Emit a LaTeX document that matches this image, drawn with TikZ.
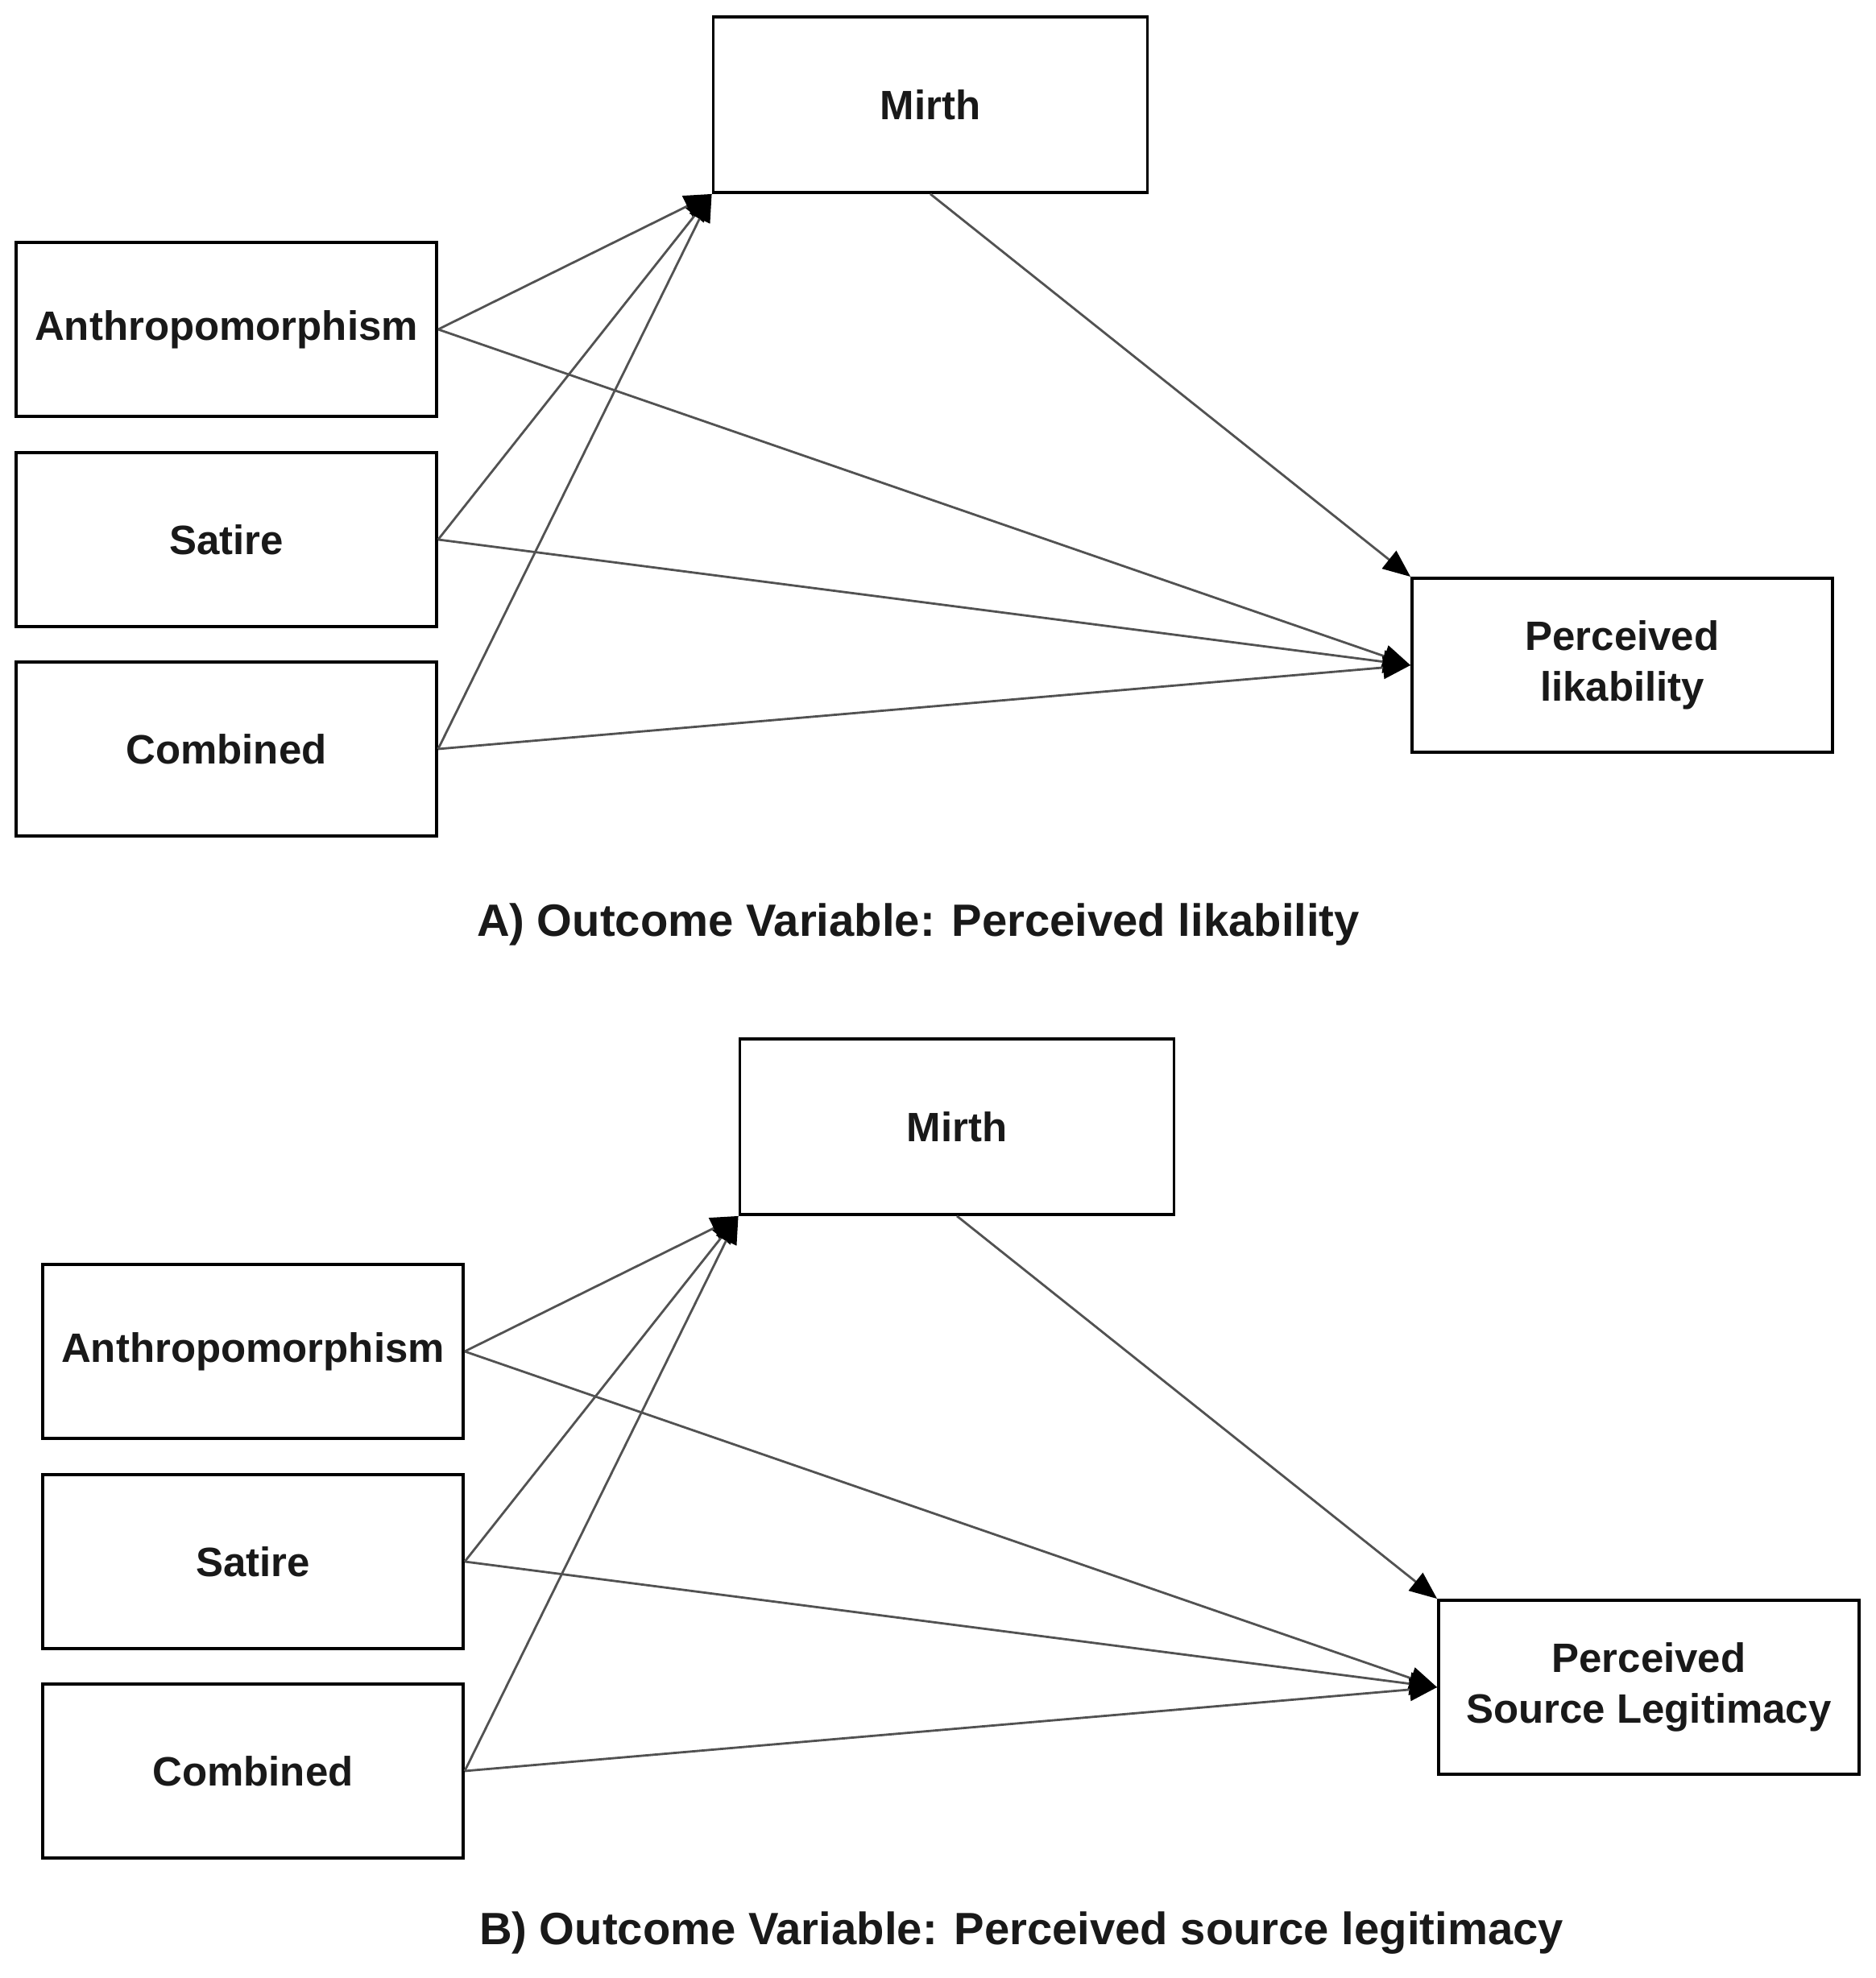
\documentclass[tikz,border=0pt]{standalone}
\usepackage{fontspec}
\setmainfont{Liberation Sans}
\usetikzlibrary{arrows.meta}

\begin{document}
\begin{tikzpicture}[
  x=1cm,y=1cm,
  box/.style={draw=black, line width=1.1pt, align=center, inner sep=2pt,
              minimum width=5.22cm, minimum height=2.16cm,
              font=\fontsize{14.5}{18}\selectfont\bfseries, text=black!90},
  mirthbox/.style={box, minimum width=5.39cm, minimum height=2.18cm},
  flow/.style={-{Triangle[length=3.4mm,width=2.8mm,color=black]},
               line width=0.8pt, draw=black!68},
  capt/.style={font=\fontsize{16}{19}\selectfont\bfseries, text=black!90}
]
  \useasboundingbox (0,0) rectangle (23.28,24.56);

  % A) likability
  \node[mirthbox] (mirthA) at (11.55,23.26) {Mirth};
  \node[box] (anthA) at (2.81,20.47) {Anthropomorphism};
  \node[box] (satA) at (2.81,17.86) {Satire};
  \node[box] (combA) at (2.81,15.26) {Combined};
  \node[box] (likA) at (20.14,16.30) {Perceived\\likability};

  \draw[flow] (anthA.east) -- (mirthA.south west);
  \draw[flow] (satA.east) -- (mirthA.south west);
  \draw[flow] (combA.east) -- (mirthA.south west);
  \draw[flow] (anthA.east) -- (likA.west);
  \draw[flow] (satA.east) -- (likA.west);
  \draw[flow] (combA.east) -- (likA.west);
  \draw[flow] (mirthA.south) -- (likA.north west);

  \node[capt] (captA) at (11.40,13.08) {A) Outcome Variable: Perceived likability};

  % B) source legitimacy
  \node[mirthbox] (mirthB) at (11.88,10.57) {Mirth};
  \node[box] (anthB) at (3.14,7.78) {Anthropomorphism};
  \node[box] (satB) at (3.14,5.17) {Satire};
  \node[box] (combB) at (3.14,2.57) {Combined};
  \node[box] (legB) at (20.47,3.61) {Perceived\\Source Legitimacy};

  \draw[flow] (anthB.east) -- (mirthB.south west);
  \draw[flow] (satB.east) -- (mirthB.south west);
  \draw[flow] (combB.east) -- (mirthB.south west);
  \draw[flow] (anthB.east) -- (legB.west);
  \draw[flow] (satB.east) -- (legB.west);
  \draw[flow] (combB.east) -- (legB.west);
  \draw[flow] (mirthB.south) -- (legB.north west);

  \node[capt] (captB) at (12.68,0.56) {B) Outcome Variable: Perceived source legitimacy};
\end{tikzpicture}
\end{document}
